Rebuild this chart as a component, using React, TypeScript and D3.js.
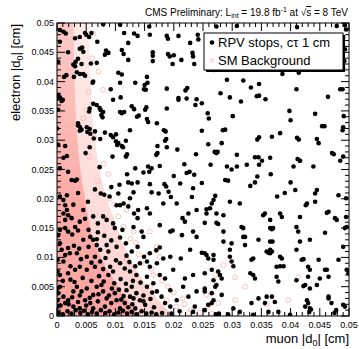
import React from "react";
import * as d3 from "d3";

// all values in units of 1e-3 cm : [muon |d0|, electron |d0|]
const rpvStops: [number, number][] = [
  // top band
  [7.9,49.8],[10.8,49.7],[15.8,49.4],[27.3,49.4],[30.8,49.5],[41.1,49.3],[47.9,49.5],[49.3,49.6],[49.5,48.9],
  [1.1,48.5],[1.5,48.2],[0.5,48.8],[3.1,47.4],[4.8,48.3],[5.0,48.0],[5.5,47.6],[5.9,48.3],[3.9,47.6],
  [11.5,48.3],[13.2,48.2],[13.8,47.8],[15.9,48.0],[18.8,47.8],[19.0,47.3],[20.8,47.8],[24.1,48.0],[24.2,47.2],
  [0.5,46.8],[6.9,46.8],[12.2,46.6],[22.8,46.6],
  [3.9,45.6],[4.3,45.8],[4.5,45.1],[8.4,45.3],[8.8,44.9],[8.2,44.6],[1.9,45.0],[11.1,45.4],[11.4,44.7],[12.2,43.7],
  [16.4,45.0],[16.4,44.4],[16.4,43.5],[19.0,44.7],[19.3,44.3],[20.0,44.5],[21.3,43.7],[19.8,43.0],[23.2,44.9],[23.3,44.3],[23.5,43.0],
  [3.2,43.4],[2.8,42.9],[3.1,42.6],[4.2,43.0],[5.8,43.1],[6.8,43.2],[0.2,43.4],[3.6,43.9],
  [3.4,41.6],[3.9,41.3],[4.5,41.3],[4.8,41.0],[10.5,41.5],[11.1,41.2],[1.2,40.8],[1.6,41.1],[2.9,40.8],[15.4,40.8],[15.5,39.8],[6.2,40.0],
  [49.0,47.5],[49.3,45.5],[49.2,43.5],[26.8,42.0],[49.0,42.3],
  // 0.03 - 0.04
  [6.1,39.8],[10.8,39.8],[13.4,39.8],[15.0,39.4],[14.9,38.7],[15.2,38.6],[18.8,38.8],[22.3,38.9],[22.0,38.5],[9.2,38.7],
  [0.2,37.7],[0.5,37.3],[0.1,37.1],[1.0,36.9],[0.8,36.7],[0.2,35.2],[9.6,36.9],[10.9,37.3],[12.8,35.8],[13.2,35.3],
  [15.3,35.6],[15.1,35.2],[18.8,35.4],[20.8,37.2],[20.8,36.9],[22.2,37.1],[23.9,37.0],[23.7,36.0],
  [6.2,36.2],[6.8,36.0],[7.3,35.5],[7.5,35.1],[7.9,34.8],[7.6,34.3],[7.8,33.9],[5.6,35.4],[5.5,34.9],
  [10.8,34.8],[11.1,34.6],[11.5,34.8],[13.7,34.0],[14.0,34.2],[15.4,33.6],[15.6,33.1],[17.1,32.9],[18.3,31.7],[18.6,31.5],
  [3.6,32.5],[3.9,32.3],[4.2,31.8],[3.9,31.6],[5.1,32.2],[5.6,31.9],[5.2,31.4],[5.7,31.1],[6.5,31.5],[6.3,30.3],[7.4,30.2],[8.2,31.3],[9.2,30.9],[9.6,30.5],
  [10.1,31.0],[10.1,29.8],[10.5,29.5],[10.3,29.2],[12.5,31.7],[11.8,29.9],[11.1,29.0],[11.3,28.8],
  [18.7,30.2],[18.5,29.9],[17.2,29.0],[18.8,28.8],[20.6,28.4],[23.8,27.6],
  [0.0,32.0],[1.4,29.0],[1.7,27.3],[1.1,27.0],[0.2,29.2],[5.6,28.8],[9.5,27.2],[11.8,27.2],[12.0,27.6],[17.0,27.5],[17.2,27.8],
  [3.6,32.9],[4.9,27.8],
  [29.1,40.3],[31.9,40.2],[33.2,39.0],[34.6,39.6],[34.6,37.6],[34.2,37.5],[35.7,37.0],[41.0,38.7],[38.6,41.3],[41.4,41.5],[48.5,38.7],[48.9,38.7],[46.4,37.4],
  [28.0,38.0],[29.6,37.3],[31.5,36.6],[24.8,36.3],[25.8,34.6],[26.0,33.7],[30.1,34.1],[28.8,31.8],[28.4,31.7],[24.8,31.6],[39.8,35.0],[44.2,34.5],[45.4,32.4],[45.8,32.4],[49.1,34.1],[49.0,32.2],[48.9,31.7],
  [34.6,30.5],[34.3,30.1],[36.8,30.6],[38.2,31.2],[40.0,33.4],[41.1,30.4],[41.4,30.1],[44.5,30.2],[44.8,29.5],[47.1,27.8],[47.4,27.6],[49.0,27.2],
  [25.9,29.3],[28.2,29.5],[27.0,28.0],[27.3,27.8],[27.5,28.0],[30.8,27.5],[33.9,27.1],[34.5,27.1],[36.5,27.0],[41.2,26.8],[41.6,26.5],
  // lower left
  [7.3,25.4],[12.0,24.2],[13.4,25.2],[14.8,24.5],[15.6,25.5],[16.2,25.2],[15.8,24.6],[17.6,25.6],[21.8,25.9],[22.7,24.6],[22.2,24.4],[20.0,23.9],[23.5,24.1],
  [0.5,25.2],[2.5,23.2],[3.1,23.1],[3.4,23.3],[1.9,24.6],
  [9.3,22.0],[10.7,22.4],[12.8,22.6],[13.8,22.8],[12.2,22.8],[13.1,21.1],[12.5,20.1],[15.9,22.5],[16.2,21.1],[17.4,20.9],[18.4,22.5],[18.7,22.1],[19.1,21.2],[19.5,20.3],
  [21.1,22.6],[23.3,21.8],[23.1,20.3],[7.5,20.9],[8.1,20.7],[9.0,20.4],[10.5,20.9],[0.5,20.4],[1.1,19.8],[1.4,18.9],[1.7,20.6],
  [10.2,18.9],[10.8,18.9],[11.4,19.2],[12.2,18.7],[13.2,17.5],[13.8,16.7],[13.9,18.1],[15.4,18.4],[15.9,17.5],[18.2,19.2],[20.5,19.2],[21.5,16.7],[21.9,16.1],[22.5,17.5],[23.9,18.1],
  [1.7,18.1],[1.1,17.5],[1.9,17.2],[1.4,16.4],[2.5,16.7],[4.5,18.1],[7.9,17.0],[8.5,16.4],[6.2,17.0],
  [0.5,14.7],[0.2,13.8],[1.4,15.0],[1.9,14.4],[5.4,14.7],[5.7,13.5],[6.2,13.0],[6.8,13.1],[9.6,15.8],[9.9,15.0],[11.2,14.7],[13.1,15.2],[14.5,14.4],[14.8,13.5],
  [17.6,15.5],[19.4,14.4],[19.8,14.6],[21.4,13.8],[23.3,14.4],[23.9,13.5],[3.9,16.1],[3.1,15.2],
  [0.5,12.4],[0.8,11.3],[1.9,11.6],[2.2,10.7],[1.4,10.4],[4.5,13.0],[5.4,11.8],[6.8,12.1],[8.5,12.1],[8.8,11.0],[10.2,11.8],[12.8,11.0],[13.8,11.8],[14.9,10.1],
  [15.9,10.7],[17.0,11.2],[17.6,11.7],[18.2,9.8],[19.4,10.1],[21.2,9.8],[22.8,11.3],[5.1,10.1],[6.5,10.1],[3.4,10.7],
  [0.1,9.6],[1.1,9.3],[2.3,8.5],[3.1,7.9],[3.9,8.4],[5.1,7.9],[6.5,8.4],[7.4,9.3],[9.1,8.4],[9.6,7.6],[8.8,7.0],[10.8,9.0],[11.6,8.1],[12.5,7.6],[14.2,9.0],
  [15.4,9.3],[15.9,8.4],[17.1,9.0],[13.6,7.0],[15.4,6.7],[17.6,7.0],[18.5,6.4],[19.9,7.9],[21.9,6.4],[23.3,7.0],[0.1,7.6],[0.5,7.0],[1.9,7.3],
  [0.1,4.7],[0.5,5.0],[0.2,3.9],[1.1,3.3],[0.1,2.7],[0.1,1.6],[1.4,2.2],[1.9,2.7],[2.8,4.2],[3.4,5.0],[4.2,4.2],[5.1,4.7],[4.8,2.7],[6.2,3.6],[5.7,2.2],
  [6.8,5.0],[7.6,5.3],[7.9,4.2],[8.5,3.0],[8.2,1.6],[9.4,4.7],[9.9,3.9],[10.2,2.7],[10.8,1.3],[11.9,4.4],[12.8,5.0],[12.5,3.3],[11.6,2.2],[13.6,3.9],[14.2,2.7],
  [15.1,1.9],[15.4,5.0],[16.5,5.6],[17.1,4.2],[17.9,3.3],[18.5,2.2],[19.4,4.4],[20.5,2.7],[21.6,5.0],[22.5,3.3],[23.9,4.2],[23.6,1.6],[19.4,1.6],[13.4,1.3],
  [6.2,1.3],[3.9,1.3],[2.8,1.6],
  [0.3,0.5],[1.0,0.3],[1.8,0.8],[2.5,0.4],[3.2,1.0],[4.0,0.5],[4.6,0.9],[5.3,0.3],[6.0,0.7],[6.8,0.4],[7.5,1.0],[8.3,0.5],[9.0,0.8],[9.8,0.3],[10.5,0.6],
  [11.3,0.9],[12.0,0.4],[12.8,0.7],[13.6,0.3],[14.5,0.8],[15.3,0.4],[16.2,0.6],[17.0,0.3],[18.0,0.5],[0.6,1.8],[2.0,2.0],[3.6,2.4],[5.0,1.8],[7.0,2.5],
  [9.3,2.2],[11.0,2.8],[12.9,2.0],[14.8,2.5],[16.6,1.5],
  [2.3,6.2],[3.0,5.8],[4.4,6.5],[5.9,6.0],[7.2,6.8],[8.0,5.9],[9.8,5.6],[10.9,6.3],[11.8,5.5],[13.0,6.0],[14.3,5.7],[1.0,6.0],
  [2.6,3.2],[3.9,3.5],[5.6,3.1],[7.1,3.7],[8.9,3.5],[10.6,4.5],[11.4,3.4],[13.1,3.0],[14.8,3.5],[16.0,2.9],[16.3,4.0],[12.2,1.5],
  [4.1,9.7],[5.9,9.1],[7.9,8.0],[8.3,9.9],[10.1,9.5],[11.9,10.3],[12.4,9.2],[13.4,8.5],[2.9,12.0],[3.8,11.5],[7.4,11.3],[9.3,12.9],
  [2.6,13.9],[3.6,14.6],[7.0,14.3],[8.1,13.7],[4.8,16.6],[7.0,15.8],[10.8,13.4],[11.8,12.4],[2.8,19.0],[5.3,19.5],[6.5,21.6],[3.6,21.0],
  [31.3,0.7],[33.6,0.2],[36.2,0.7],[37.9,0.7],[39.9,0.2],[43.2,0.7],[43.5,1.1],[47.5,0.5],[47.8,1.0],[29.3,0.3],[27.2,0.3],[27.7,0.4],[25.3,1.0],[23.3,0.7],
  [21.0,0.8],[19.6,0.4],
  // lower right
  [26.3,25.8],[29.1,25.5],[29.9,25.0],[30.8,25.5],[32.5,25.8],[34.6,25.8],[35.1,26.5],[40.5,25.5],[41.6,26.5],[43.9,25.5],[48.5,26.5],
  [24.8,22.7],[28.8,23.2],[29.3,23.1],[33.1,22.2],[33.9,22.8],[34.3,23.8],[36.6,24.2],[40.0,22.8],[40.8,21.5],[44.2,20.9],[44.5,21.5],[48.2,20.6],[49.5,20.1],
  [27.1,20.5],[26.8,19.8],[26.5,19.2],[29.6,19.5],[31.3,19.2],[37.7,20.4],[39.0,21.0],[42.8,19.2],[42.6,18.9],[44.2,19.5],
  [25.6,18.2],[26.2,18.4],[25.6,17.5],[27.3,17.5],[28.5,17.2],[35.6,17.5],[35.3,17.2],[36.5,16.4],[38.2,17.5],[38.5,16.9],[41.6,16.9],[46.5,17.8],[46.2,17.6],
  [47.6,16.7],[47.9,16.4],[49.5,16.9],
  [25.3,15.9],[27.3,15.9],[27.6,15.7],[31.6,15.2],[31.9,15.0],[36.5,15.0],[36.8,14.8],[37.0,15.0],[41.0,15.2],[41.3,14.4],[45.9,14.2],[49.6,15.2],[49.3,15.0],
  [28.5,14.4],[31.9,13.5],[32.2,13.5],[34.5,13.0],[36.5,12.7],[36.9,12.7],[41.6,12.7],[43.3,13.0],[28.5,12.7],[29.9,12.4],[32.2,12.1],[41.0,11.3],[49.0,11.8],
  [24.8,10.8],[25.3,10.7],[25.6,10.4],[26.8,10.4],[25.9,9.8],[26.8,9.6],[29.6,11.3],[29.6,10.1],[29.9,9.3],[30.2,8.5],[33.6,9.8],[33.3,9.6],
  [35.9,11.0],[36.2,10.8],[36.5,10.7],[36.8,11.0],[36.5,11.3],[38.2,10.1],[38.5,9.8],[41.9,9.6],[42.2,9.7],[43.0,8.4],[43.3,7.9],[44.8,9.6],
  [45.9,7.9],[46.2,7.9],[48.2,9.6],[49.6,7.9],[49.9,7.3],
  [25.3,7.3],[26.5,7.9],[27.6,7.6],[27.9,7.0],[28.2,6.4],[26.8,6.1],[27.1,5.0],[27.3,5.3],[25.3,4.7],[25.3,4.2],[28.2,3.6],[26.5,3.9],
  [33.1,7.3],[33.6,7.0],[33.9,6.4],[37.6,6.7],[37.9,5.9],[37.6,8.4],[38.2,8.5],[38.8,8.5],[41.0,6.1],[43.0,6.7],[42.2,5.1],[42.5,5.3],[45.0,6.4],[46.5,6.7],
  [44.5,5.3],[43.3,4.7],
  [26.8,2.7],[26.5,2.2],[25.9,1.9],[30.2,1.3],[33.3,2.2],[34.5,3.0],[35.9,3.3],[36.8,3.3],[37.3,2.4],[35.6,2.2],[42.8,2.7],[43.0,2.2],[42.5,1.6],[43.3,1.3],
  [46.5,3.3],[46.5,3.0],[47.0,2.2],[49.0,1.9],[49.3,1.6],
];

// SM background: dense band near muon |d0| = 0 (extent read per electron |d0| level)
const bgLevels = [0, 2, 5, 8, 10, 13, 16, 20, 25, 30, 35, 40, 45, 50];
const bgCoreEdge = [14, 12.5, 10.5, 8.5, 7.5, 6.2, 5.5, 4.8, 4.0, 3.5, 3.2, 3.0, 2.9, 2.8];
const bgHaloEdge = [20, 18, 15.5, 13.5, 12.5, 11, 10, 8.5, 7.3, 6.5, 6, 5.8, 5.5, 5.5];
const bgStray: [number, number][] = [
  [8.8,24.2],[11.9,18.1],[11.4,15.2],[13.1,14.4],[15.9,14.4],[17.6,10.1],[17.1,11.8],[11.9,9.6],[15.9,5.0],[18.8,2.7],[20.5,1.6],
  [28.5,8.7],[27.1,7.0],[30.5,6.6],[32.2,5.0],[30.5,2.7],[27.6,2.2],[25.6,3.6],[25.9,1.6],[41.3,6.6],[39.6,2.7],[35.9,2.0],
  [6.2,48.2],[7.1,41.7],[7.9,38.6],[5.4,38.3],[4.5,33.7],[5.1,35.1],[5.5,27.2],[11.9,27.3],
  [9.0,20.0],[10.5,17.0],[13.5,12.5],[14.5,9.0],[16.5,7.0],[19.0,5.0],[21.5,3.0],[23.0,1.0],[22.5,0.5],[24.5,0.6],[26.5,0.4],[18.0,1.0],
  [6.0,44.0],[6.4,30.5],[7.0,23.0],[8.0,26.0],[9.8,19.0],[12.6,13.2],[14.0,10.5],[16.2,8.0],[18.0,6.0],[20.0,4.0],[21.8,2.0],
];

const axisTicks = [0, 0.005, 0.01, 0.015, 0.02, 0.025, 0.03, 0.035, 0.04, 0.045, 0.05];

const W = 359, H = 349;
const L = 57, R = 349, T = 23, B = 316;
const font = "'Liberation Sans', Arial, Helvetica, sans-serif";

export default function App() {
  const x = d3.scaleLinear().domain([0, 0.05]).range([L, R]);
  const y = d3.scaleLinear().domain([0, 0.05]).range([B, T]);
  const minor = d3.range(0, 51).map(i => i / 1000);

  const bandArea = (edge: number[]) =>
    d3.area<number>()
      .y((_, i) => y(bgLevels[i] / 1000))
      .x0(x(0))
      .x1(d => x(d / 1000))
      .curve(d3.curveMonotoneY)(edge) || "";

  const fmt = (v: number) => (v === 0 ? "0" : String(+v.toFixed(3)));

  return (
    <svg width={W} height={H} style={{ position: "absolute", left: 0, top: 0, background: "#fff" }} fontFamily={font}>
      <defs>
        <clipPath id="plot">
          <rect x={L} y={T} width={R - L} height={B - T} />
        </clipPath>
        <linearGradient id="core" x1="0" y1="1" x2="0" y2="0">
          <stop offset="0" stopColor="#fba49f" />
          <stop offset="0.4" stopColor="#fbaca7" />
          <stop offset="1" stopColor="#fcc9c5" />
        </linearGradient>
        <linearGradient id="halo" x1="0" y1="1" x2="0" y2="0">
          <stop offset="0" stopColor="#fdd3d0" />
          <stop offset="1" stopColor="#feeae8" />
        </linearGradient>
      </defs>

      <g clipPath="url(#plot)">
        <path d={bandArea(bgHaloEdge)} fill="url(#halo)" />
        <path d={bandArea(bgCoreEdge)} fill="url(#core)" />
        {bgStray.map((d, i) => (
          <circle key={i} cx={x(d[0] / 1000)} cy={y(d[1] / 1000)} r={2.4} fill="none" stroke="#fbb3ae" strokeWidth={0.8} />
        ))}
        {rpvStops.map((d, i) => (
          <circle key={i} cx={x(d[0] / 1000)} cy={y(d[1] / 1000)} r={2.3} fill="#000" />
        ))}
      </g>

      {/* ticks, all four sides, inward */}
      <g stroke="#000" strokeWidth={1}>
        {minor.map((v, i) => {
          const len = i % 5 === 0 ? 8 : 4;
          const xv = x(v), yv = y(v);
          return (
            <g key={i}>
              <line x1={xv} x2={xv} y1={B} y2={B - len} />
              <line x1={xv} x2={xv} y1={T} y2={T + len} />
              <line x1={L} x2={L + len} y1={yv} y2={yv} />
              <line x1={R} x2={R - len} y1={yv} y2={yv} />
            </g>
          );
        })}
      </g>
      <rect x={L} y={T} width={R - L} height={B - T} fill="none" stroke="#000" strokeWidth={1} />

      {/* tick labels */}
      <g fontSize={9} fill="#000">
        {axisTicks.map((v, i) => (
          <text key={"x" + i} x={x(v)} y={328} textAnchor="middle">{fmt(v)}</text>
        ))}
        {axisTicks.map((v, i) => (
          <text key={"y" + i} x={54} y={y(v) + 3} textAnchor="end">{fmt(v)}</text>
        ))}
      </g>

      {/* axis titles */}
      <text x={R} y={343} textAnchor="end" fontSize={13}>
        muon |d<tspan fontSize={9} dy={3}>0</tspan><tspan dy={-3}>| [cm]</tspan>
      </text>
      <text transform={`translate(19.5,${T + 1}) rotate(-90)`} textAnchor="end" fontSize={13}>
        electron |d<tspan fontSize={9} dy={3}>0</tspan><tspan dy={-3}>| [cm]</tspan>
      </text>

      {/* header */}
      <text x={348} y={16} textAnchor="end" fontSize={10}>
        CMS Preliminary: L<tspan fontSize={7} dy={2}>int</tspan>
        <tspan dy={-2}> = 19.8 fb</tspan>
        <tspan fontSize={7} dy={-4}>-1</tspan>
        <tspan dy={4}> at √</tspan>
        <tspan style={{ textDecoration: "overline" }}>s</tspan>
        <tspan> = 8 TeV</tspan>
      </text>

      {/* legend */}
      <rect x={206} y={35} width={139} height={37} fill="#000" />
      <rect x={204} y={33} width={139} height={37} fill="#fff" stroke="#000" strokeWidth={1} />
      <circle cx={212} cy={42.5} r={2.3} fill="#000" />
      <text x={218} y={47} fontSize={13}>RPV stops, cτ 1 cm</text>
      <circle cx={212} cy={60.5} r={1.6} fill="none" stroke="#fbb3ae" strokeWidth={0.8} />
      <text x={218} y={65} fontSize={13}>SM Background</text>
    </svg>
  );
}
